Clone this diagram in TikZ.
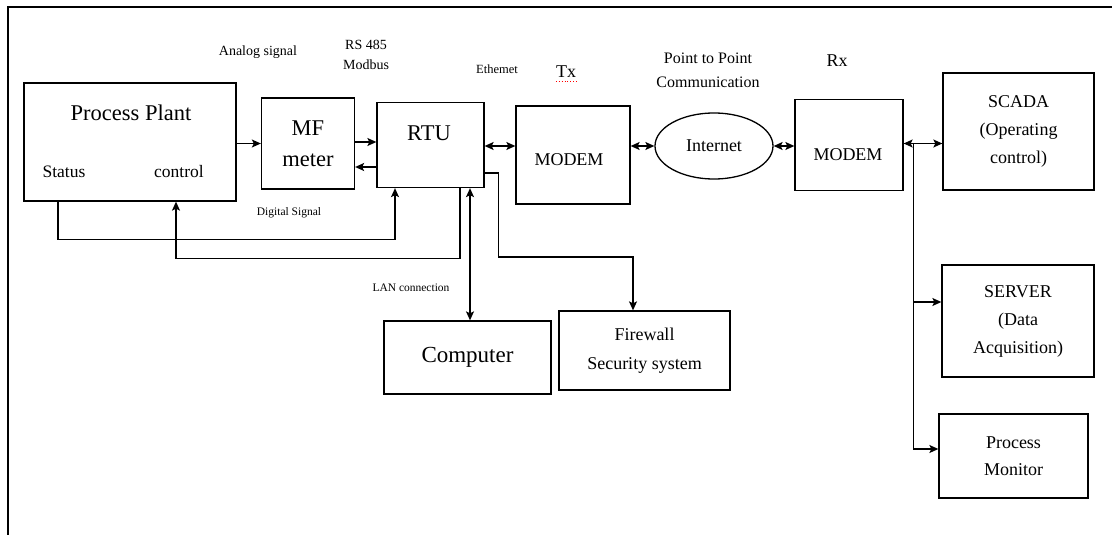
\documentclass[tikz,border=0pt]{standalone}
\usepackage{fontspec}
\setmainfont{Liberation Serif}
\usetikzlibrary{arrows.meta, positioning, shapes.geometric}
\newcommand{\fsz}[2]{\fontsize{#1}{#2}\selectfont}

\begin{document}
\begin{tikzpicture}[x=1pt, y=-1pt,
    box/.style={rectangle, draw, line width=1.3pt, inner sep=0pt, align=center},
    lbl/.style={inner sep=0pt, align=center},
    arr/.style={-{Stealth[length=9pt, width=8pt, inset=2pt]}, line width=1.3pt},
    dbl/.style={{Stealth[length=9pt, width=8pt, inset=2pt]}-{Stealth[length=9pt, width=8pt, inset=2pt]}, line width=1.3pt},
]
\useasboundingbox (0,0) rectangle (1112,535);
\draw[line width=1.6pt] (8,535) -- (8,7) -- (1112,7);

\node[box, minimum width=212pt, minimum height=118pt] (plant) at (130,142) {};
\node[lbl, font=\fsz{22.5}{26}] (plantname) at (131,113) {Process Plant};
\node[lbl, font=\fsz{17.5}{20}] (status) at (64,172) {Status};
\node[lbl, font=\fsz{17.5}{20}] (ctrl) at (179,172) {control};
\node[box, minimum width=93pt, minimum height=91pt, font=\fsz{22.5}{31}] (mf) at (308,143.5) {MF\\meter};
\node[box, minimum width=107pt, minimum height=85pt] (rtu) at (430.5,145) {};
\node[lbl, font=\fsz{22.5}{26}] (rtuname) at (429,133) {RTU};
\node[box, minimum width=114pt, minimum height=98pt] (txm) at (573,155) {};
\node[lbl, font=\fsz{18}{22}] (txmname) at (569,160) {MODEM};
\node[ellipse, draw, line width=1.3pt, minimum width=118pt, minimum height=66pt,
      inner sep=0pt, font=\fsz{18}{22}] (inet) at (714,146) {Internet};
\node[box, minimum width=108pt, minimum height=91pt] (rxm) at (849,145) {};
\node[lbl, font=\fsz{18}{22}] (rxmname) at (848,155) {MODEM};
\node[box, minimum width=151pt, minimum height=117pt, font=\fsz{18}{28}] (scada) at (1018.5,131.5) {SCADA\\(Operating\\control)};
\node[box, minimum width=152pt, minimum height=112pt, font=\fsz{18}{28}] (server) at (1018,321) {SERVER\\(Data\\Acquisition)};
\node[box, minimum width=149pt, minimum height=84pt, font=\fsz{18}{27}] (monitor) at (1013.5,456) {Process\\Monitor};
\node[box, minimum width=167pt, minimum height=73pt, font=\fsz{23}{26}] (comp) at (467.5,357.5) {Computer};
\node[box, minimum width=171pt, minimum height=79pt, font=\fsz{18}{29}] (fw) at (644.5,350.5) {Firewall\\Security system};

\node[lbl, font=\fsz{14}{17}] (analog) at (258,52) {Analog signal};
\node[lbl, font=\fsz{14}{20}] (rs) at (366,55) {RS 485\\Modbus};
\node[lbl, font=\fsz{12.5}{15}] (eth) at (497,69) {Ethemet};
\node[lbl, font=\fsz{18}{22}] (tx) at (566,72) {Tx};
\node[lbl, font=\fsz{16}{24}] (p2p) at (708,70) {Point to Point\\Communication};
\node[lbl, font=\fsz{18}{22}] (rx) at (837,61) {Rx};
\node[lbl, font=\fsz{11.5}{14}] (digital) at (289,213) {Digital Signal};
\node[lbl, font=\fsz{11.5}{14}] (lan) at (411,288) {LAN connection};
\draw[red, dotted, line width=0.9pt] ([yshift=-3pt]tx.south west) -- ([yshift=-3pt]tx.south east);

\coordinate (bus) at ([xshift=10pt, yshift=1.5pt]rxm.east);

\draw[arr] (plant.east |- mf.west) -- (mf.west);
\draw[arr] ([yshift=1.5pt]mf.east) -- ([yshift=1.5pt]mf.east -| rtu.west);
\draw[arr] ([yshift=-22pt]rtu.west) -- ([yshift=-22pt]rtu.west -| mf.east);
\draw[dbl] ([yshift=-1pt]rtu.east) -- ([yshift=-1pt]rtu.east -| txm.west);
\draw[dbl] (inet.west -| txm.east) -- (inet.west);
\draw[dbl] (inet.east) -- (inet.east -| rxm.west);
\draw[dbl] ([yshift=1.5pt]rxm.east) -- ([yshift=1.5pt]rxm.east -| scada.west);
\draw[arr] (bus) |- ([yshift=19pt]server.west);
\draw[arr] (bus) |- ([yshift=7pt]monitor.west);
\draw[arr] ([xshift=-72pt]plant.south) -- ++(0,38) -| ([xshift=-35.5pt]rtu.south);
\draw[arr] ([xshift=29.5pt]rtu.south) -- ++(0,70) -| ([xshift=46pt]plant.south);
\draw[dbl] ([xshift=39.5pt]rtu.south) -- ([xshift=39.5pt]rtu.south |- comp.north);
\draw[arr] ([yshift=-28pt]rtu.east) -- ++(14,0) -- ++(0,84) -| ([xshift=-11.5pt]fw.north);
\end{tikzpicture}
\end{document}
